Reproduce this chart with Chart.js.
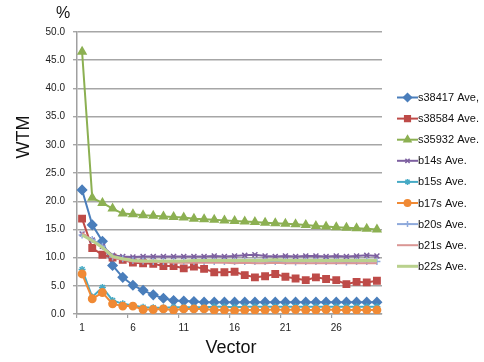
<!DOCTYPE html>
<html>
<head>
<meta charset="utf-8">
<script src="https://cdn.jsdelivr.net/npm/chart.js@4.4.0/dist/chart.umd.min.js"></script>
<style>
  html,body{margin:0;padding:0;background:#fff;}
  #wrap{width:484px;height:362px;}
</style>
</head>
<body>
<div id="wrap"><canvas id="grafik" width="484" height="362"></canvas></div>
<script>
// data
const vectors = Array.from({length:30},(_,i)=>String(i+1));
const seriesNames = ["s38417 Ave,","s38584 Ave.","s35932 Ave.","b14s Ave.","b15s Ave.","b17s Ave.","b20s Ave.","b21s Ave.","b22s Ave."];

const s38417 = [22.0,15.8,12.9,8.6,6.5,5.1,4.2,3.4,2.8,2.4,2.3,2.2,2.1,2.1,2.1,2.1,2.1,2.1,2.1,2.1,2.1,2.1,2.1,2.1,2.1,2.1,2.1,2.1,2.1,2.1];
const s38584 = [16.9,11.7,10.5,10.0,9.6,9.1,9.0,8.9,8.5,8.5,8.1,8.4,8.0,7.4,7.4,7.5,6.9,6.5,6.7,7.1,6.6,6.3,6.0,6.5,6.2,6.0,5.3,5.7,5.6,5.9];
const s35932 = [46.5,20.6,19.7,18.7,17.8,17.7,17.5,17.4,17.3,17.2,17.1,16.9,16.8,16.7,16.6,16.5,16.4,16.3,16.2,16.1,16.0,15.9,15.8,15.6,15.5,15.4,15.3,15.2,15.1,15.0];
const b14s = [14.2,13.1,12.0,10.4,10.2,10.1,10.2,10.2,10.2,10.2,10.2,10.2,10.2,10.3,10.2,10.3,10.4,10.5,10.3,10.2,10.3,10.2,10.3,10.3,10.2,10.3,10.2,10.3,10.4,10.3];
const b15s = [7.9,3.0,4.7,2.4,1.8,1.5,1.2,1.1,1.1,1.2,1.2,1.2,1.2,1.3,1.3,1.2,1.3,1.3,1.3,1.3,1.3,1.3,1.3,1.3,1.3,1.3,1.3,1.3,1.3,1.3];
const b17s = [7.1,2.7,3.8,1.8,1.4,1.4,0.8,0.8,0.9,0.7,0.9,0.9,0.9,0.7,0.7,0.6,0.7,0.7,0.7,0.8,0.7,0.8,0.7,0.7,0.8,0.7,0.7,0.7,0.7,0.7];
const b20s = [14.0,13.2,12.0,10.1,9.8,9.5,9.4,9.3,9.3,9.3,9.3,9.3,9.3,9.3,9.3,9.3,9.3,9.3,9.3,9.3,9.3,9.2,9.3,9.3,9.3,9.3,9.2,9.3,9.3,9.3];
const b21s = [14.4,13.0,11.8,10.0,9.6,9.3,9.2,9.2,9.2,9.1,9.1,9.1,9.1,9.1,9.1,9.0,9.1,9.0,9.0,9.1,9.0,9.0,9.0,9.0,9.0,9.0,9.0,9.0,9.0,9.0];
const b22s = [14.0,13.0,11.8,10.2,9.8,9.5,9.4,9.4,9.4,9.4,9.4,9.5,9.5,9.5,9.5,9.5,9.5,9.5,9.5,9.6,9.5,9.5,9.5,9.5,9.5,9.5,9.5,9.5,9.5,9.5];
const yTicks = [0,5,10,15,20,25,30,35,40,45,50];

const FONT = "'Liberation Sans', Arial, sans-serif";

const styles = [
  {c:"#4A7EBB", p:"rectRot",  r:4.5, w:2},
  {c:"#BE4B48", p:"rect",     r:4.5, w:2},
  {c:"#8CB052", p:"triangle", r:4.5, w:2},
  {c:"#7D60A0", p:"crossRot", r:3.5, w:2},
  {c:"#46AAC5", p:"star",     r:3.5, w:2},
  {c:"#F08A35", p:"circle",   r:3.7, w:2},
  {c:"#8EA9DB", p:"cross",    r:3.5, w:2},
  {c:"#DA9694", p:false,      r:0,   w:2},
  {c:"#B9D18D", p:false,      r:0,   w:3},
];
const values = [s38417,s38584,s35932,b14s,b15s,b17s,b20s,b21s,b22s];

const datasets = values.map((v,i)=>({
  label: seriesNames[i],
  data: v,
  borderColor: styles[i].c,
  backgroundColor: styles[i].c,
  borderWidth: styles[i].w,
  pointStyle: styles[i].p,
  pointRadius: styles[i].r,
  pointBorderWidth: 1.5,
  tension: 0,
  order: values.length - i   // later series drawn on top, like the original
}));

// legend + axis titles drawn by hand
const decor = {
  id:"decor",
  afterDraw(chart){
    const ctx = chart.ctx;
    ctx.save();
    chart.data.datasets.forEach((ds,i)=>{
      const y = 97.5 + i*21.1;
      ctx.strokeStyle = ds.borderColor;
      ctx.lineWidth = ds.borderWidth;
      ctx.beginPath(); ctx.moveTo(397,y); ctx.lineTo(418,y); ctx.stroke();
      if(ds.pointStyle){
        ctx.fillStyle = ds.borderColor;
        ctx.lineWidth = 1.5;
        Chart.helpers.drawPoint(ctx,{pointStyle:ds.pointStyle,radius:ds.pointRadius-0.5,rotation:0,borderWidth:1.5},407.5,y);
      }
      ctx.fillStyle = "#111";
      ctx.font = "11px " + FONT;
      ctx.textAlign = "left"; ctx.textBaseline = "middle";
      ctx.fillText(ds.label,418,y+0.5);
    });
    ctx.fillStyle = "#111";
    ctx.textAlign = "center"; ctx.textBaseline = "middle";
    ctx.font = "16px " + FONT;
    ctx.fillText("%",63,14);
    ctx.font = "18px " + FONT;
    ctx.fillText("Vector",231,348);
    ctx.translate(24,137);
    ctx.rotate(-Math.PI/2);
    ctx.fillText("WTM",0,0);
    ctx.restore();
  }
};

new Chart(document.getElementById("grafik"),{
  type:"line",
  data:{labels:vectors,datasets},
  options:{
    responsive:false,
    animation:false,
    layout:{padding:{top:32,right:102,left:0,bottom:0}},
    plugins:{legend:{display:false},tooltip:{enabled:false}},
    scales:{
      x:{
        offset:true,
        afterFit(s){ s.height = 48; },
        grid:{
          offset:true, drawOnChartArea:false, tickLength:4,
          color:(c)=> (c.index % 5 === 0) ? "#A0A0A0" : "rgba(0,0,0,0)",
          lineWidth:1.2
        },
        border:{color:"#A0A0A0",width:1.5},
        ticks:{
          autoSkip:false, maxRotation:0, padding:4,
          font:{family:FONT,size:10}, color:"#222",
          callback:(v,i)=> (i % 5 === 0) ? vectors[i] : ""
        }
      },
      y:{
        min:0, max:50,
        afterFit(s){ s.width = 77; },
        afterBuildTicks(s){ s.ticks = yTicks.map(v=>({value:v})); },
        grid:{color:"#A6A6A6", lineWidth:1.4, tickLength:4},
        border:{color:"#A0A0A0",width:1.5},
        ticks:{
          padding:8,
          font:{family:FONT,size:10}, color:"#222",
          callback:(v)=> Number(v).toFixed(1)
        }
      }
    }
  },
  plugins:[decor]
});
</script>
</body>
</html>
